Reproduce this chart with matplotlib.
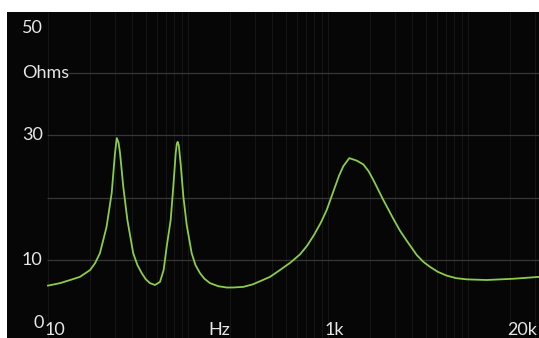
import numpy as np
import matplotlib
matplotlib.use("Agg")
import matplotlib.pyplot as plt
from matplotlib.transforms import blended_transform_factory

# impedance curve (Hz, ohms)
freq = [10.0, 12.2, 14.4, 16.9, 20.0, 21.7, 23.5, 26.2, 28.5, 30.1, 31.0,
        31.9, 32.7, 34.5, 36.9, 40.6, 43.5, 46.7, 50.0, 53.5, 58.1, 63.1,
        67.0, 70.4, 75.2, 78.5, 81.7, 83.2, 84.4, 86.0, 88.7, 92.6, 97.9,
        106.2, 113.0, 121.8, 131.0, 143.6, 165.0, 188.9, 209.4, 248.3, 290.0,
        326.6, 385.3, 454, 540, 631, 710, 794, 890, 979, 1122, 1200, 1286,
        1419, 1603, 1787, 1950, 2108, 2485, 2927, 3266, 3646, 4303, 4800,
        5355, 6100, 7047, 8200, 9794, 13620, 21100, 32140]
ohms = [5.9, 6.3, 6.8, 7.3, 8.4, 9.5, 11.1, 15.3, 20.7, 27.1, 29.5,
        28.8, 27.1, 21.7, 16.4, 11.1, 9.2, 7.9, 6.9, 6.3, 6.0, 6.5,
        8.4, 12.1, 16.4, 21.7, 27.1, 28.6, 28.9, 28.3, 25.3, 20.2, 15.6,
        11.1, 9.2, 7.9, 7.0, 6.3, 5.8, 5.6, 5.6, 5.7, 6.1,
        6.6, 7.3, 8.4, 9.6, 10.9, 12.3, 14.0, 16.0, 18.0, 21.7, 23.5, 25.0,
        26.3, 25.9, 25.3, 24.2, 22.8, 19.6, 16.6, 14.7, 13.1, 10.8, 9.7,
        8.9, 8.1, 7.5, 7.1, 6.9, 6.8, 7.0, 7.3]

grid_ohms = [10, 20, 30, 40]
ylabels = [(47.1, "50"), (40, "Ohms"), (30, "30"), (10, "10")]
xlabels = [(10, "10"), (1000, "1k"), (20000, "20k")]

px_per_dec = 140.0
f_lo = 10 ** (1 - 41 / px_per_dec)
f_hi = 10 ** (1 + 491 / px_per_dec)

fig = plt.figure(figsize=(5.39, 3.38), dpi=100, facecolor="white")
ax = fig.add_axes([7 / 539, 0, 532 / 539, 326 / 338])
ax.set_facecolor("#060606")
ax.set_xscale("log")
ax.set_xlim(f_lo, f_hi)
ax.set_ylim(-2.48, 49.68)
for s in ax.spines.values():
    s.set_visible(False)
ax.set_xticks([])
ax.set_yticks([])
ax.minorticks_off()

# faint vertical grid
vlines = [m * 10 ** d for d in range(1, 5) for m in range(1, 10)]
vlines = [v for v in vlines if v <= f_hi]
ax.vlines(vlines, -2.48, 49.68, color="#151515", lw=0.8, zorder=1)

# horizontal grid
for g in grid_ohms:
    start = 14.0 if g == 40 else 9.9
    ax.hlines(g, start, f_hi, color="#363636", lw=0.9, zorder=1)

ax.plot(freq, ohms, color="#8ccc48", lw=1.3, zorder=3,
        solid_joinstyle="round")

tr = blended_transform_factory(ax.transAxes, ax.transData)
font = dict(color="#e6e6e6", fontsize=13, family="Lato")
for y, t in ylabels:
    ax.text(0.028, y, t, transform=tr, ha="left", va="center", **font)
ax.text(0.049, 0, "0", transform=tr, ha="left", va="center", **font)

trx = blended_transform_factory(ax.transData, ax.transAxes)
for f, t in xlabels:
    ax.text(f * 10 ** (-3 / px_per_dec), 0.026, t, transform=trx,
            ha="left", va="center", **font)
ax.text(10 ** (1 + 160 / px_per_dec), 0.024, "Hz", transform=trx,
        ha="left", va="center", **font)

fig.savefig("out.png", dpi=100, facecolor="white")
